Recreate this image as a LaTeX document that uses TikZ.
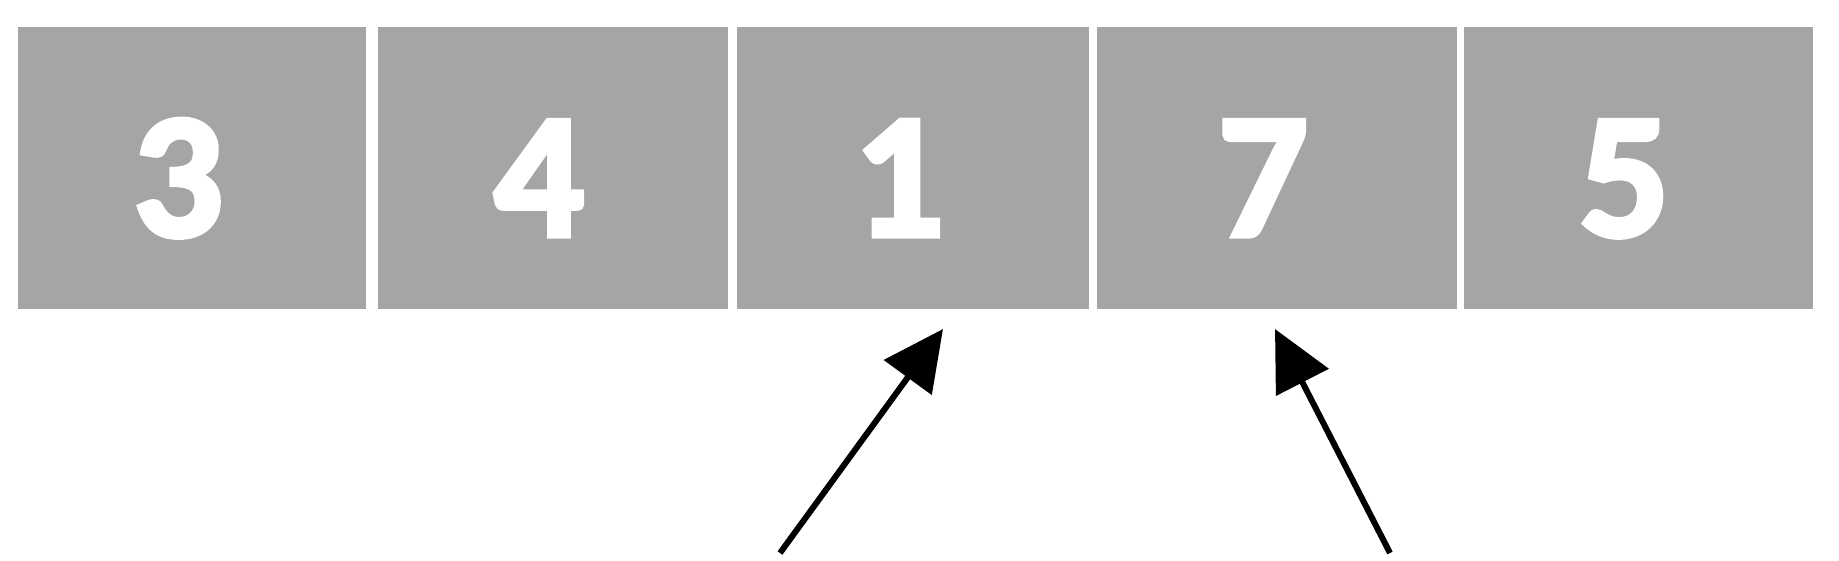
\documentclass[tikz,border=0pt]{standalone}
\usepackage{fontspec}
\newfontfamily\digitfont{Carlito}[UprightFont={* Bold}, UprightFeatures={FakeBold=3}]
\usetikzlibrary{arrows.meta}
\definecolor{cellgray}{HTML}{A5A5A5}
\newcommand{\celltext}[1]{#1\hspace*{28pt}}
\begin{document}
\begin{tikzpicture}[x=1pt,y=-1pt,
  cell/.style={rectangle, fill=cellgray, draw=none, inner sep=0pt,
    minimum height=282pt, text=white,
    font=\digitfont\fontsize{178}{178}\selectfont,
    text height=136pt, text depth=0pt},
  pointer/.style={line width=6pt, -{Triangle[length=60pt,width=58pt]}}]
\useasboundingbox (0,0) rectangle (1839,560);
\node[cell, minimum width=348pt] (c1) at (192,168) {\celltext{3}};
\node[cell, minimum width=350pt] (c2) at (553,168) {\celltext{4}};
\node[cell, minimum width=352pt] (c3) at (913,168) {\celltext{1}};
\node[cell, minimum width=360pt] (c4) at (1277,168) {\celltext{7}};
\node[cell, minimum width=349pt] (c5) at (1638.5,168) {\celltext{5}};
\coordinate (t1) at (780,553);
\coordinate (h1) at (943,329);
\coordinate (t2) at (1390,553);
\coordinate (h2) at (1275,329);
\draw[pointer] (t1) -- (h1);
\draw[pointer] (t2) -- (h2);
\end{tikzpicture}
\end{document}
